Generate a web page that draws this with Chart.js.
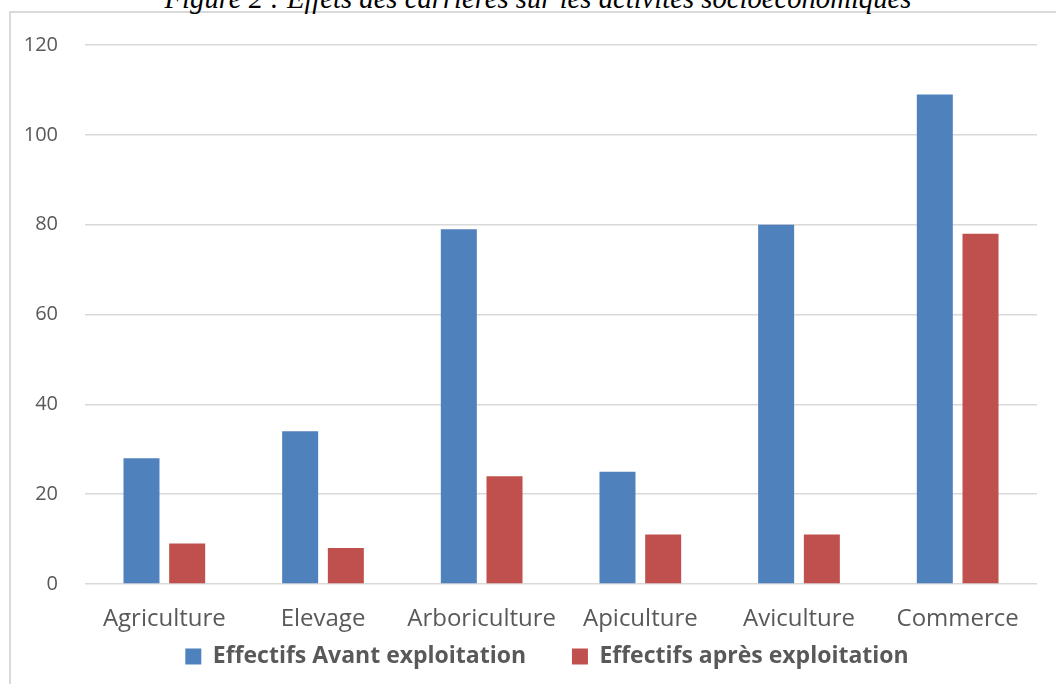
<!DOCTYPE html>
<html lang="fr">
<head>
<meta charset="utf-8">
<title>Effets des carrières sur les activités socioéconomiques</title>
<script src="https://cdn.jsdelivr.net/npm/chart.js@4/dist/chart.umd.min.js"></script>
<style>
  html, body { margin: 0; padding: 0; background: #ffffff; overflow: hidden; }
  body { width: 1056px; height: 684px; position: relative; }
  #caption {
    position: absolute; left: 0; width: 1076px; text-align: center;
    font-family: "Liberation Serif", "DejaVu Serif", serif; font-style: italic;
    color: #000000; line-height: 1; white-space: nowrap;
  }
  #frame {
    position: absolute; left: 9px; top: 11px; width: 1200px; height: 800px;
    border: 2px solid #d9d9d9; background: #ffffff;
  }
  #plot { position: absolute; left: 11px; top: 14px; }
</style>
</head>
<body>
<div id="frame"></div>
<div id="caption">Figure 2 : Effets des carrières sur les activités socioéconomiques</div>
<canvas id="plot" width="1072" height="670"></canvas>
<script>
// Activities surveyed and headcounts before / after quarry operations
const categories = ["Agriculture", "Elevage", "Arboriculture", "Apiculture", "Aviculture", "Commerce"];
const seriesNames = ["Effectifs Avant exploitation", "Effectifs après exploitation"];
const avantExploitation = [28, 34, 79, 25, 80, 109];
const apresExploitation = [9, 8, 24, 11, 11, 78];
const yTicks = [0, 20, 40, 60, 80, 100, 120];

// Caption sized to its line width, baseline just above the frame
(function () {
  const cap = document.getElementById("caption");
  const ctx = document.createElement("canvas").getContext("2d");
  ctx.font = "italic 26px 'Liberation Serif'";
  const w = ctx.measureText(cap.textContent).width;
  const size = 26 * 747 / w;
  cap.style.fontSize = size + "px";
  cap.style.top = (8 - 0.8375 * size) + "px";
})();

const grey = "#595959";
const legendGap = "      "; // wider spacing after the first legend entry

new Chart(document.getElementById("plot"), {
  type: "bar",
  data: {
    labels: categories,
    datasets: [
      {
        label: seriesNames[0],
        data: avantExploitation,
        backgroundColor: "#4f81bd",
        borderWidth: 0,
        categoryPercentage: 0.576,
        barPercentage: 0.788
      },
      {
        label: seriesNames[1],
        data: apresExploitation,
        backgroundColor: "#c0504d",
        borderWidth: 0,
        categoryPercentage: 0.576,
        barPercentage: 0.788
      }
    ]
  },
  options: {
    responsive: false,
    devicePixelRatio: 1,
    animation: false,
    layout: { padding: { left: 0, right: 0, top: 31, bottom: 6 } },
    plugins: {
      tooltip: { enabled: false },
      title: { display: false },
      legend: {
        position: "bottom",
        align: "center",
        labels: {
          boxWidth: 16,
          boxHeight: 16,
          padding: 10,
          color: grey,
          font: { family: "'Open Sans'", size: 23, weight: "bold" },
          generateLabels: (chart) => {
            const items = Chart.defaults.plugins.legend.labels.generateLabels(chart);
            items.forEach((it, i) => { if (i < items.length - 1) it.text += legendGap; });
            return items;
          }
        }
      }
    },
    scales: {
      x: {
        grid: { display: false, drawTicks: false },
        border: { display: false },
        ticks: {
          color: grey,
          padding: 21,
          maxRotation: 0,
          autoSkip: false,
          font: { family: "'Open Sans'", size: 24 }
        },
        afterFit: (s) => { s.height = 51; }
      },
      y: {
        min: 0,
        max: 120,
        grid: { color: "#d9d9d9", lineWidth: 1.5, drawTicks: false },
        border: { display: false },
        afterBuildTicks: (s) => { s.ticks = yTicks.map(v => ({ value: v })); },
        ticks: {
          color: grey,
          padding: 27,
          font: { family: "'Open Sans'", size: 20 }
        },
        afterFit: (s) => {
          s.width = 74;
          // only half a label of room above the top tick
          s.paddingTop = 12;
          s.paddingBottom = 12;
        }
      },
      // empty margin on the right of the plot
      yRight: {
        type: "linear",
        position: "right",
        grid: { display: false, drawTicks: false },
        border: { display: false },
        ticks: { display: false },
        afterFit: (s) => { s.width = 46; }
      }
    }
  }
});
</script>
</body>
</html>
